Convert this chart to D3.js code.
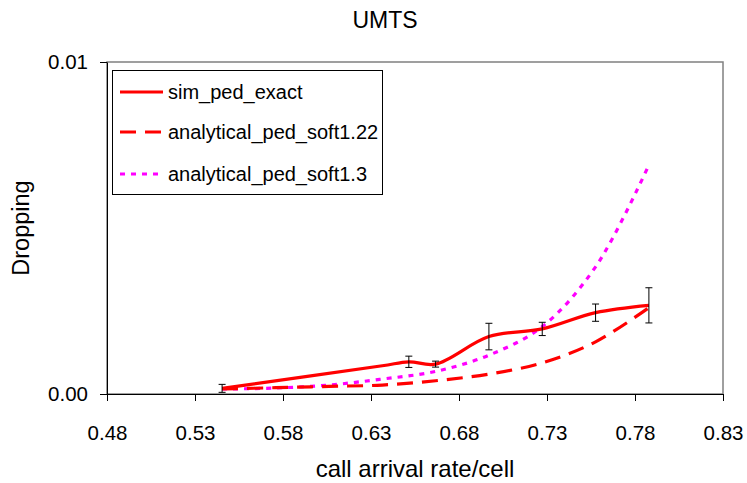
<!DOCTYPE html>
<html><head><meta charset="utf-8">
<script src="https://cdn.jsdelivr.net/npm/d3@7"></script>
<style>body{margin:0;background:#fff}svg{font-family:Arial,"Liberation Sans",sans-serif}</style>
</head><body>
<svg id="c" width="747" height="483"></svg>
<script>
const title = "UMTS";
const xLabel = "call arrival rate/cell";
const yLabel = "Dropping";
const xTicks = [0.48, 0.53, 0.58, 0.63, 0.68, 0.73, 0.78, 0.83];
const yTicks = [0, 0.01];
const seriesNames = ["sim_ped_exact", "analytical_ped_soft1.22", "analytical_ped_soft1.3"];

const simX = [0.5454, 0.6364, 0.6515, 0.6667, 0.6970, 0.7273, 0.7576, 0.7879];
const simY = [0.00017, 0.00085, 0.00097, 0.00090, 0.00173, 0.00196, 0.00245, 0.00267];
const simErr = [0.00012, null, 0.00017, 0.00009, 0.00040, 0.00020, 0.00026, 0.00053];

const anaX = [0.5454, 0.5758, 0.6061, 0.6364, 0.6667, 0.6970, 0.7273, 0.7576, 0.7879];
const ana122Y = [0.00015, 0.00019, 0.00023, 0.00027, 0.00040, 0.00060, 0.00094, 0.00157, 0.00260];
const ana13Y = [0.00015, 0.00018, 0.00027, 0.00045, 0.00068, 0.00117, 0.00203, 0.00383, 0.00690];

const svg = d3.select("#c");
const L = 107, R = 723, T = 62, B = 394;
const x = d3.scaleLinear().domain([0.48, 0.83]).range([L, R]);
const y = d3.scaleLinear().domain([0, 0.01]).range([B, T]);

// plot border
svg.append("rect").attr("x", L).attr("y", T).attr("width", R - L).attr("height", B - T)
  .attr("fill", "none").attr("stroke", "#808080").attr("stroke-width", 1.5);

// axes
const xa = svg.append("g").attr("transform", `translate(0,${B})`)
  .call(d3.axisBottom(x).tickValues(xTicks).tickFormat(d3.format(".2f")).tickSize(7).tickSizeOuter(0).tickPadding(24));
const ya = svg.append("g").attr("transform", `translate(${L},0)`)
  .call(d3.axisLeft(y).tickValues(yTicks).tickFormat(d3.format(".2f")).tickSize(7).tickSizeOuter(0).tickPadding(12));
[xa, ya].forEach(a => {
  a.select(".domain").attr("stroke", "#000");
  a.selectAll(".tick line").attr("stroke", "#000");
  a.selectAll("text").attr("font-size", 20.5).attr("fill", "#000").attr("font-family", "Arial, 'Liberation Sans', sans-serif");
});

const curve = d3.curveCatmullRom.alpha(0.5);
const line = d3.line().x(d => x(d[0])).y(d => y(d[1])).curve(curve);

// series
svg.append("path").datum(anaX.map((v, i) => [v, ana13Y[i]])).attr("d", line)
  .attr("fill", "none").attr("stroke", "#ff00ff").attr("stroke-width", 3.2).attr("stroke-dasharray", "5,6");
svg.append("path").datum(anaX.map((v, i) => [v, ana122Y[i]])).attr("d", line)
  .attr("fill", "none").attr("stroke", "#ff0000").attr("stroke-width", 3.2).attr("stroke-dasharray", "16,9");
svg.append("path").datum(simX.map((v, i) => [v, simY[i]])).attr("d", line)
  .attr("fill", "none").attr("stroke", "#ff0000").attr("stroke-width", 3.2);

// error bars
const eb = svg.append("g").attr("stroke", "#000").attr("stroke-width", 1);
simX.forEach((v, i) => {
  if (simErr[i] == null) return;
  const cx = x(v), y1 = y(Math.max(0, simY[i] - simErr[i])), y2 = y(simY[i] + simErr[i]);
  eb.append("line").attr("x1", cx).attr("x2", cx).attr("y1", y1).attr("y2", y2);
  eb.append("line").attr("x1", cx - 3.5).attr("x2", cx + 3.5).attr("y1", y2).attr("y2", y2);
  eb.append("line").attr("x1", cx - 3.5).attr("x2", cx + 3.5).attr("y1", y1).attr("y2", y1);
});

// legend
const lg = svg.append("g");
lg.append("rect").attr("x", 112.5).attr("y", 70.5).attr("width", 270).attr("height", 124)
  .attr("fill", "#fff").attr("stroke", "#000").attr("stroke-width", 1);
const styles = [
  {c: "#ff0000", d: null},
  {c: "#ff0000", d: "16,9"},
  {c: "#ff00ff", d: "5,6"}
];
const rowY = [92, 132, 174];
seriesNames.forEach((n, i) => {
  const ln = lg.append("line").attr("x1", 120).attr("x2", 163).attr("y1", rowY[i]).attr("y2", rowY[i])
    .attr("stroke", styles[i].c).attr("stroke-width", 3.2);
  if (styles[i].d) ln.attr("stroke-dasharray", styles[i].d);
  lg.append("text").attr("x", 168).attr("y", rowY[i] + 7).attr("font-size", 20).text(n);
});

// titles
svg.append("text").attr("x", 385).attr("y", 28).attr("text-anchor", "middle").attr("font-size", 23).text(title);
svg.append("text").attr("x", (L + R) / 2).attr("y", 477).attr("text-anchor", "middle").attr("font-size", 24).text(xLabel);
svg.append("text").attr("transform", `translate(29,${(T + B) / 2}) rotate(-90)`).attr("text-anchor", "middle").attr("font-size", 23.5).text(yLabel);
</script>
</body></html>
